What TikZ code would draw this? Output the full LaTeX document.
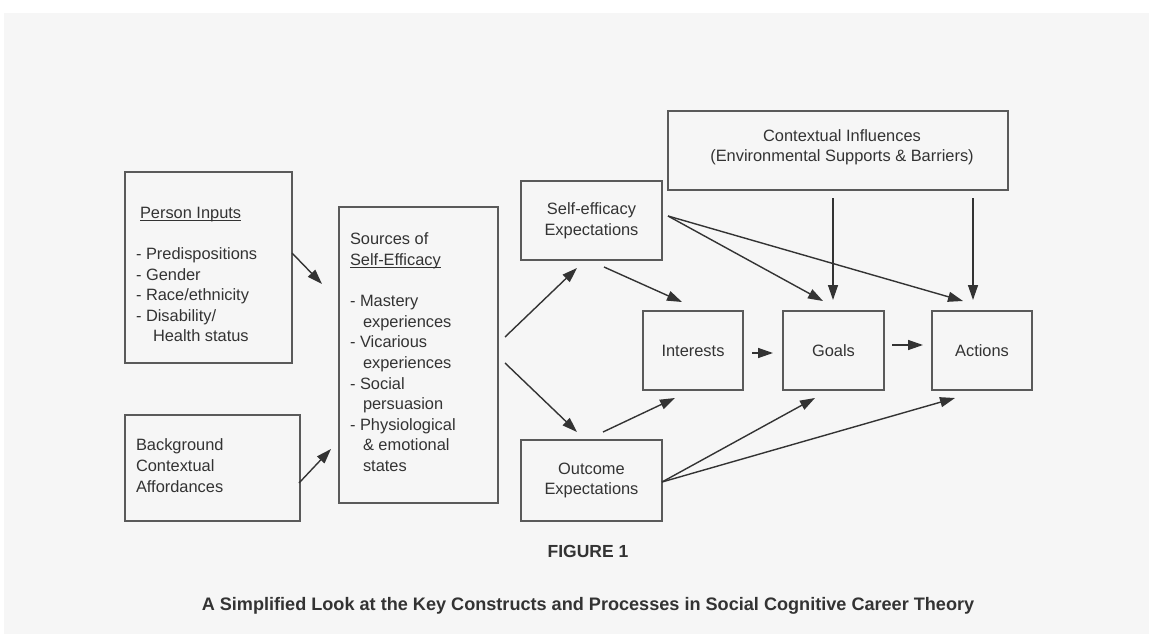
\documentclass[tikz,border=0pt]{standalone}
\usepackage{fontspec}
\setmainfont{Liberation Sans}
\usetikzlibrary{arrows.meta,calc}

\definecolor{ink}{HTML}{333333}
\definecolor{edge}{HTML}{5A5A5A}
\definecolor{paper}{HTML}{F6F6F6}

% underline sitting just under the baseline
\newcommand{\ulin}[1]{\setbox0\hbox{#1}\rlap{\rule[-2.4pt]{\wd0}{0.9pt}}\box0}

\begin{document}
\begin{tikzpicture}[x=1pt,y=-1pt,
  every node/.style={text=ink, font=\fontsize{16.4}{20.6}\selectfont},
  box/.style={draw=edge, line width=1.2pt, rectangle, inner sep=0pt, outer sep=0pt, align=center},
  txt/.style={inner sep=0pt, outer sep=0pt, align=left, anchor=north west},
  arr/.style={draw=ink, line width=1.4pt, -{Triangle[length=15pt,width=10pt]}},
  caption/.style={anchor=base, inner sep=0pt}]

\useasboundingbox (0,0) rectangle (1149,634);
\fill[white] (0,0) rectangle (1149,634);
\fill[paper] (4,13) rectangle (1149,634);

% left column
\node[box, minimum width=167pt, minimum height=191pt] (pin) at (208.5,267.5) {};
\node[txt] (pinT) at (136,207)
  {\hspace*{4pt}\ulin{Person Inputs}\\[20.6pt]
   - Predispositions\\- Gender\\- Race/ethnicity\\- Disability/\\
   \hspace*{17pt}Health status};

\node[box, minimum width=175pt, minimum height=106pt] (bg) at (212.5,468) {};
\node[txt] (bgT) at (136,439) {Background\\Contextual\\Affordances};

% sources of self-efficacy
\node[box, minimum width=159pt, minimum height=296pt] (src) at (418.5,355) {};
\node[txt] (srcT) at (350,233)
  {Sources of\\\ulin{Self-Efficacy}\\[20.6pt]
   - Mastery\\\hspace*{13pt}experiences\\
   - Vicarious\\\hspace*{13pt}experiences\\
   - Social\\\hspace*{13pt}persuasion\\
   - Physiological\\\hspace*{13pt}\& emotional\\\hspace*{13pt}states};

% expectations
\node[box, minimum width=141pt, minimum height=79pt] (se) at (591.5,220.5) {Self-efficacy\\Expectations};
\node[box, minimum width=141pt, minimum height=81pt] (oe) at (591.5,480.5) {Outcome\\Expectations};

% outcomes chain
\node[box, minimum width=100pt, minimum height=79pt] (int) at (693,350.5) {Interests};
\node[box, minimum width=101pt, minimum height=79pt] (goals) at (833.5,350.5) {Goals};
\node[box, minimum width=100pt, minimum height=79pt] (act) at (982,350.5) {Actions};

% context
\node[box, minimum width=340pt, minimum height=79pt] (ctx) at (838,150.5) {};
\node[inner sep=0pt, align=center, anchor=north] (ctxT) at (842,129)
  {Contextual Influences\\(Environmental Supports \& Barriers)};

% connectors
\draw[arr] ($(pin.east)+(0,-14.5)$) -- ($(src.west)+(-17,-71)$);
\draw[arr] ($(bg.east)+(-1,15)$) -- ($(src.west)+(-8,94)$);
\draw[arr] ($(src.east)+(7,-18)$) -- ($(se.south)+(-14.5,8)$);
\draw[arr] ($(src.east)+(7,8)$) -- ($(oe.north)+(-14.5,-8)$);
\draw[arr] ($(se.south)+(12.5,7)$) -- ($(int.north)+(-11,-9)$);
\draw[arr] ($(oe.north)+(11.5,-8)$) -- ($(int.south)+(-18,8)$);
\draw[arr] ($(int.east)+(9,2.5)$) -- ($(goals.west)+(-10,2.5)$);
\draw[arr] ($(goals.east)+(8,-5.5)$) -- ($(act.west)+(-9,-5.5)$);
\draw[arr] ($(se.east)+(6,-4.5)$) -- ($(goals.north)+(-10.5,-10)$);
\draw[arr] ($(se.east)+(6,-4.5)$) -- ($(act.north)+(-19,-10)$);
\draw[arr] ($(ctx.south)+(-5,8)$) -- ($(goals.north)+(-0.5,-11)$);
\draw[arr] ($(ctx.south)+(135,8)$) -- ($(act.north)+(-9,-11)$);
\draw[arr] ($(oe.east)+(0,1.5)$) -- ($(goals.south)+(-18.5,8)$);
\draw[arr] ($(oe.east)+(0,1.5)$) -- ($(act.south)+(-27,8)$);

% figure caption
\node[caption, font=\bfseries\fontsize{17.5}{21}\selectfont] (fig) at (588,557) {FIGURE 1};
\node[caption, font=\bfseries\fontsize{18.1}{21}\selectfont] (cap) at (588,610)
  {A Simplified Look at the Key Constructs and Processes in Social Cognitive Career Theory};
\end{tikzpicture}
\end{document}
